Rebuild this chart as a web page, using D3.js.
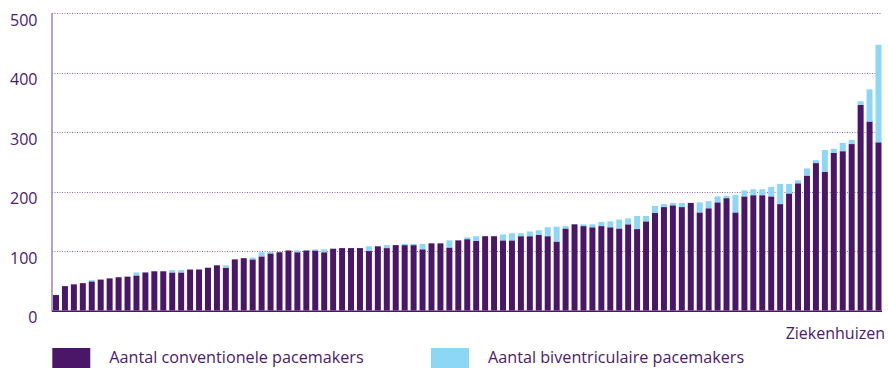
<!DOCTYPE html>
<html>
<head>
<meta charset="utf-8">
<script src="https://cdn.jsdelivr.net/npm/d3@7"></script>
<style>
  html, body { margin: 0; padding: 0; background: #fff; overflow: hidden; }
  svg { display: block; }
  text { font-family: "Open Sans", sans-serif; fill: #4b1a6b; }
</style>
</head>
<body>
<svg id="chart" width="888" height="368"></svg>
<script>
// ---- data ----
const hospitals = d3.range(1, 94).map(String);
const conventioneel = [
  26, 41, 44, 46, 49, 52, 54, 56, 57, 59,
  64, 66, 66, 64, 64, 69, 69, 72, 76, 72,
  86, 88, 86, 91, 96, 98, 101, 98, 101, 101,
  98, 104, 105, 105, 105, 100, 108, 105, 110, 110,
  110, 103, 113, 113, 106, 118, 120, 117, 125, 125,
  118, 118, 125, 125, 127, 125, 116, 138, 145, 142,
  140, 142, 140, 138, 145, 137, 150, 164, 174, 177,
  174, 181, 165, 172, 182, 189, 165, 192, 194, 194,
  192, 179, 197, 214, 227, 248, 233, 265, 268, 280,
  346, 318, 283
];
const biventriculair = [
  0, 0, 0, 0, 2, 0, 0, 0, 0, 5,
  0, 0, 0, 4, 4, 0, 0, 0, 0, 4,
  0, 0, 3, 7, 3, 0, 0, 3, 0, 2,
  5, 0, 0, 0, 0, 8, 0, 5, 0, 2,
  2, 9, 0, 0, 12, 0, 3, 8, 0, 0,
  10, 12, 5, 8, 8, 15, 25, 4, 0, 3,
  5, 7, 10, 15, 10, 22, 9, 12, 5, 4,
  7, 0, 17, 12, 10, 4, 29, 10, 10, 10,
  16, 34, 16, 5, 12, 5, 37, 7, 14, 7,
  6, 54, 164
];
const yTicks = [0, 100, 200, 300, 400, 500];
const seriesNames = ["Aantal conventionele pacemakers", "Aantal biventriculaire pacemakers"];
const seriesColors = ["#4a1668", "#8dd7f6"];
const xAxisTitle = "Ziekenhuizen";

// ---- layout ----
const svg = d3.select("#chart");
const plotLeft = 52, plotRight = 882, plotTop = 13.3, plotBottom = 310.5;

const x = d3.scaleBand()
  .domain(hospitals)
  .range([53, 881.5])
  .paddingInner(0.33)
  .paddingOuter(0);

const y = d3.scaleLinear().domain([0, 500]).range([plotBottom, plotTop]);

const rows = hospitals.map((h, i) => ({ h, conv: conventioneel[i], biv: biventriculair[i] }));
const stack = d3.stack().keys(["conv", "biv"])(rows);

// gridlines
svg.append("g")
  .selectAll("line")
  .data(yTicks.filter(d => d > 0))
  .join("line")
  .attr("x1", plotLeft).attr("x2", plotRight)
  .attr("y1", d => Math.round(y(d)) + 0.5).attr("y2", d => Math.round(y(d)) + 0.5)
  .attr("stroke", "#8a6ca3")
  .attr("stroke-width", 1)
  .attr("stroke-dasharray", "1,1.5");

// bars
svg.append("g")
  .selectAll("g")
  .data(stack)
  .join("g")
  .attr("fill", (d, i) => seriesColors[i])
  .selectAll("rect")
  .data(d => d)
  .join("rect")
  .attr("x", d => x(d.data.h))
  .attr("width", x.bandwidth())
  .attr("y", d => y(d[1]))
  .attr("height", d => Math.max(0, y(d[0]) - y(d[1])));

// y axis line
svg.append("line")
  .attr("x1", plotLeft).attr("x2", plotLeft)
  .attr("y1", plotTop).attr("y2", plotBottom + 1)
  .attr("stroke", "#9c84b3").attr("stroke-width", 1.5);

// x axis line
svg.append("line")
  .attr("x1", plotLeft).attr("x2", plotRight)
  .attr("y1", plotBottom + 0.8).attr("y2", plotBottom + 0.8)
  .attr("stroke", "#4a1668").attr("stroke-width", 1.6);

// y tick labels
svg.append("g")
  .selectAll("text")
  .data(yTicks)
  .join("text")
  .attr("x", 37.5)
  .attr("y", d => y(d) + 12.5)
  .attr("text-anchor", "end")
  .attr("font-size", 16)
  .text(d => d);

// x axis title
svg.append("text")
  .attr("x", 885).attr("y", 338.7)
  .attr("text-anchor", "end")
  .attr("font-size", 16)
  .text(xAxisTitle);

// legend
const legendX = [52.3, 431];
const legend = svg.append("g").selectAll("g")
  .data(seriesNames)
  .join("g")
  .attr("transform", (d, i) => `translate(${legendX[i]},348)`);
legend.append("rect")
  .attr("width", 38).attr("height", 20)
  .attr("fill", (d, i) => seriesColors[i]);
legend.append("text")
  .attr("x", 57).attr("y", 15.3)
  .attr("font-size", 16.2)
  .text(d => d);
</script>
</body>
</html>
